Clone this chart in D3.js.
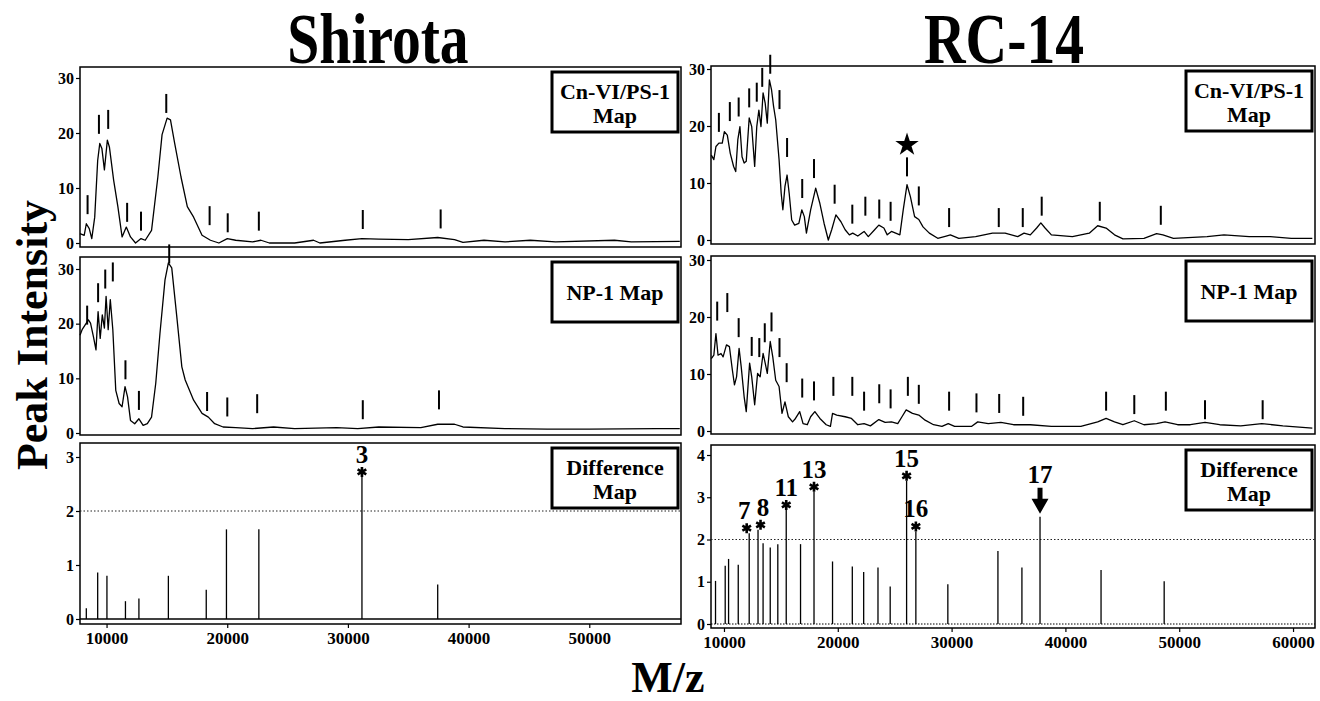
<!DOCTYPE html>
<html lang="en">
<head>
<meta charset="utf-8">
<title>Shirota / RC-14 protein maps</title>
<script src="https://cdn.jsdelivr.net/npm/d3@7"></script>
<style>
body { margin: 0; background: #fff; }
svg text { font-family: "Liberation Serif", "Times New Roman", serif; font-weight: bold; fill: #000; }
.axis text { font-size: 16px; }
.axis line { stroke: #000; stroke-width: 1.2; }
</style>
</head>
<body>
<div id="chart"></div>
<script>

// ---- Shirota, Cn-VI/PS-1 map
var shirotaCnMz = [7800,8149,8323,8567,8776,9020,9265,9439,9613,9822,10067,10241,10590,10938,11287,11636,11984,12403,12856,13205,13728,14251,14600,15018,15297,15646,16169,16692,17215,17912,18610,19307,20005,20702,22097,22794,23492,25584,27153,27676,29768,31163,32558,34999,37440,38834,39532,41275,43019,45111,47203,52085,53480,57500]
var shirotaCnInt = [1.7,1.4,3.5,2.6,0.8,4.7,15,18.1,17.2,13.3,18.7,17.4,11.4,6.6,1.1,2.9,1.1,0,0.8,0.5,2.3,12,19.7,22.7,22.4,18.1,12,6.6,4.7,1.4,0.5,0,0.8,0.5,0.2,0.5,0,0,0.5,0,0.5,0.8,0.7,0.6,1.0,0.6,0.1,0.5,0.2,0.5,0.2,0.5,0.2,0.3]
var shirotaCnPeakMz = [8428,9369,10136,11705,12856,14948,18540,20040,22620,31233,37684]
var shirotaCnPeakTop = [8.7,23.3,24.2,7.3,5.7,27.1,6.7,5.4,5.7,6.0,6.1]

// ---- Shirota, NP-1 map
var shirotaNpMz = [7800,7974,8149,8497,8672,8916,9125,9299,9474,9648,9822,9962,10136,10311,10520,10764,11043,11287,11531,11740,11984,12333,12682,13031,13379,13728,14077,14425,14844,15123,15402,15820,16239,16518,17215,17912,18435,18958,19656,20702,22097,23840,25584,29071,30814,32558,36045,37440,38834,39532,43019,46506,49993,55572,57500]
var shirotaNpInt = [17.9,18.9,19.5,20.7,20.1,17.6,15.2,22.2,17.3,21.6,19.2,25,18.9,24.4,18.9,7.8,5.4,4.8,8.5,6.6,2.3,1.7,2.6,1.4,1.7,2.9,9.1,18.2,28,31.1,30.2,21.3,12.1,9.7,6,3.6,2.9,1.7,1.1,1,0.8,1.1,0.8,1,0.8,1.1,1,1.6,1.6,1.1,0.8,0.7,0.7,0.8,0.8]
var shirotaNpPeakMz = [8393,9300,9892,10520,11566,12682,15192,18331,20005,22481,31233,37545]
var shirotaNpPeakTop = [23.3,27.4,29.9,31.2,13.3,7.7,34.5,7.5,6.5,7.1,6.0,7.8]

// ---- Shirota, difference map
var shirotaDiffMz = [8323,9265,10032,11566,12682,15123,18261,19935,22620,31163,37440]
var shirotaDiffVal = [0.2,0.86,0.8,0.33,0.38,0.8,0.54,1.66,1.66,2.63,0.64]
var shirotaStarMz = [31163]
var shirotaStarLabel = ["3"]

// ---- RC-14, Cn-VI/PS-1 map
var rcCnMz = [8888,9109,9294,9553,9849,10034,10293,10552,10848,11032,11217,11402,11587,11772,11957,12216,12438,12697,12881,13066,13251,13436,13621,13806,13991,14176,14361,14546,14841,15026,15174,15359,15544,15729,15951,16210,16579,16838,17060,17245,17615,18059,18428,18798,19168,19464,19834,20277,20647,21017,21313,21757,22311,22681,23236,23606,24049,24345,24715,25085,25455,25750,26083,26379,26749,27119,27489,28043,28783,29522,29892,30632,32111,33590,34700,35809,36364,36918,37473,37843,38213,38767,40616,42096,42835,43575,44314,45054,46903,48012,48567,49492,52450,53929,56148,57997,59846,61695]
var rcCnInt = [14.9,14.1,16.4,17,17,19,18.4,15.2,12.9,12,17.6,19.9,14.6,13.5,13.8,21.4,19.9,12.9,19.9,22.8,19.9,25.8,24,20.5,28.1,26.4,23.4,21.1,14.1,8.2,5.3,9.4,11.4,8.2,3.5,2.6,2.9,5.3,4.1,1.2,5.3,9.1,6.4,2.9,0,1.8,4.4,3.2,1.8,0.9,1.2,0.7,1.5,0.6,1.8,2.6,2.1,0.9,1.5,1.2,0.9,5.3,9.7,7.6,4.1,3.6,2.3,1.2,0.3,0.7,0.9,0.3,0.6,1.2,1.2,0.6,1.2,0.9,2.1,3,2.1,0.9,0.6,1.2,2.5,2.1,0.9,0.2,0.3,1.1,0.9,0.3,0.6,0.9,0.6,0.6,0.3,0.3]
var rcCnPeakMz = [9553,10515,11291,12216,12881,13362,14065,14878,15544,16875,17911,19723,21276,22422,23643,24641,26083,27119,29781,34145,36253,37917,43020,48382]
var rcCnPeakTop = [22.3,24.2,25,26.6,27.6,30.2,32.5,26.3,17.9,10.7,14.2,9.7,6.2,7.6,7.1,6.7,14.5,9.4,5.6,5.6,5.6,7.6,6.7,6.0]
var rcCnStarMz = 26083
var rcCnStarVal = 16.7

// ---- RC-14, NP-1 map
var rcNpMz = [8888,9109,9294,9479,9738,9923,10219,10478,10737,10922,11106,11328,11513,11772,11957,12253,12438,12697,12955,13177,13436,13621,13806,14065,14287,14546,14841,15100,15359,15655,16025,16284,16654,16949,17319,17615,17985,18428,18983,19353,19538,19908,20647,21202,21757,22311,22866,23606,24160,24715,25270,25640,26009,26564,27119,27673,28413,29153,29707,30262,31741,32296,33220,34330,35439,36918,38767,41356,42835,43575,44314,45054,46052,46903,48012,48752,49861,50971,52265,53559,55408,57257,59107,61695]
var rcNpInt = [12.7,13.3,17.1,13.3,13.6,13,15.1,14.8,10.7,8.1,9.5,14.5,11.3,6,3.4,11.9,9.5,4.6,10.1,9.5,13.6,11.9,10.1,15.7,13,8.9,7.8,3.1,5.1,2.5,1.6,2.2,3.4,1.3,1.1,2.5,3.4,2.2,1.1,0.8,3.1,2.8,2.5,2.2,1.1,1.3,0.9,2,1.5,1.6,1.3,2.5,3.7,3.1,2.8,1.9,1.1,0.8,1.3,0.8,0.8,1.6,1.3,1.5,1.1,1.1,0.8,0.8,1.6,2.2,1.6,1.1,1.8,1.1,1.3,1.6,1.1,1.1,1.5,1.1,0.9,1.3,0.9,0.5]
var rcNpPeakMz = [9405,10293,11291,12438,13103,13584,14176,14878,15507,16875,17911,19612,21276,22311,23643,24641,26157,27119,29781,32185,34182,36290,43575,46052,48826,52265,57331]
var rcNpPeakTop = [22.7,24.2,19.8,16.5,16.3,18.9,20.8,16.3,11.9,9.2,8.7,9.5,9.5,6.9,8.2,7.3,9.5,8.1,6.9,6.6,6.5,6,6.9,6.3,6.9,5.4,5.4]

// ---- RC-14, difference map
var rcDiffMz = [9257,10108,10404,11254,12216,12992,13436,14065,14730,15470,16727,17911,19538,21276,22274,23532,24604,26046,26860,29670,34071,36179,37769,43131,48678]
var rcDiffVal = [1.02,1.38,1.54,1.4,2.15,2.23,1.91,1.81,1.89,2.7,1.89,3.13,1.48,1.36,1.23,1.34,0.89,3.39,2.19,0.94,1.73,1.34,2.54,1.28,1.01]
var rcStarMz = [12216,12992,15470,17911,26046,26860]
var rcStarLabel = ["7","8","11","13","15","16"]
var rcArrowMz = 37769
var rcArrowLabel = "17"

// ---- axes
var spectrumTicks = [0,10,20,30]
var shirotaDiffTicks = [0,1,2,3]
var rcDiffTicks = [0,1,2,3,4]
var shirotaMzTicks = [10000,20000,30000,40000,50000]
var rcMzTicks = [10000,20000,30000,40000,50000,60000]
var threshold = 2

var w = 1320, h = 701
var svg = d3.select("#chart").append("svg").attr("width", w).attr("height", h)

var cols = [
	{x0: 80, x1: 681, domain: [7800, 57600], ticks: shirotaMzTicks, title: "Shirota", titleX: 378},
	{x0: 711, x1: 1315, domain: [8860, 61930], ticks: rcMzTicks, title: "RC-14", titleX: 1004}
]
cols.forEach(function(c){
	c.x = d3.scaleLinear().domain(c.domain).range([c.x0, c.x1])
})

var panels = [
	{col:0, y0:67, y1:247, yZero:243, yTop:78, topVal:30, ticks:spectrumTicks, kind:"spectrum",
		mz:shirotaCnMz, val:shirotaCnInt, peakMz:shirotaCnPeakMz, peakTop:shirotaCnPeakTop, box:["Cn-VI/PS-1","Map"]},
	{col:0, y0:257, y1:435, yZero:433, yTop:269, topVal:30, ticks:spectrumTicks, kind:"spectrum",
		mz:shirotaNpMz, val:shirotaNpInt, peakMz:shirotaNpPeakMz, peakTop:shirotaNpPeakTop, box:["NP-1 Map"]},
	{col:0, y0:443, y1:624, yZero:619, yTop:457, topVal:3, ticks:shirotaDiffTicks, kind:"diff",
		mz:shirotaDiffMz, val:shirotaDiffVal, starMz:shirotaStarMz, starLabel:shirotaStarLabel, box:["Difference","Map"], solidBase:true},
	{col:1, y0:66, y1:244, yZero:240, yTop:69, topVal:30, ticks:spectrumTicks, kind:"spectrum",
		mz:rcCnMz, val:rcCnInt, peakMz:rcCnPeakMz, peakTop:rcCnPeakTop, box:["Cn-VI/PS-1","Map"]},
	{col:1, y0:256, y1:434, yZero:431, yTop:260, topVal:30, ticks:spectrumTicks, kind:"spectrum",
		mz:rcNpMz, val:rcNpInt, peakMz:rcNpPeakMz, peakTop:rcNpPeakTop, box:["NP-1 Map"]},
	{col:1, y0:445, y1:628, yZero:624, yTop:455, topVal:4, ticks:rcDiffTicks, kind:"diff",
		mz:rcDiffMz, val:rcDiffVal, starMz:rcStarMz, starLabel:rcStarLabel, box:["Difference","Map"], solidBase:false}
]

var markLen = 19
var labelNudge = {"7": -5, "8": 5}
var asterisk = d3.symbol().type(d3.symbolAsterisk).size(70)

panels.forEach(function(p){
	var c = cols[p.col]
	var x = c.x
	var y = d3.scaleLinear().domain([0, p.topVal]).range([p.yZero, p.yTop])
	var g = svg.append("g")

	// frame
	g.append("rect")
		.attr("x", c.x0).attr("y", p.y0)
		.attr("width", c.x1 - c.x0).attr("height", p.y1 - p.y0)
		.attr("fill", "none").attr("stroke", "#000").attr("stroke-width", 1.5)

	// y axis
	g.append("g")
		.attr("class", "axis")
		.attr("transform", "translate(" + c.x0 + ",0)")
		.call(d3.axisLeft(y).tickValues(p.ticks).tickSize(4).tickPadding(2).tickFormat(d3.format("d")))
		.call(function(a){ a.select(".domain").remove() })

	if (p.kind == "spectrum") {
		var line = d3.line()
			.x(function(d,i){ return x(p.mz[i]) })
			.y(function(d){ return y(d) })
		g.append("path")
			.datum(p.val)
			.attr("d", line)
			.attr("fill", "none").attr("stroke", "#000").attr("stroke-width", 1.3)
			.attr("stroke-linejoin", "round")

		g.selectAll(".peak")
			.data(p.peakMz)
			.enter()
			.append("line")
			.attr("x1", function(d){ return x(d) })
			.attr("x2", function(d){ return x(d) })
			.attr("y1", function(d,i){ return y(p.peakTop[i]) })
			.attr("y2", function(d,i){ return y(p.peakTop[i]) + markLen })
			.attr("stroke", "#000").attr("stroke-width", 2)
	} else {
		// threshold and baseline
		g.append("line")
			.attr("x1", c.x0).attr("x2", c.x1)
			.attr("y1", y(threshold)).attr("y2", y(threshold))
			.attr("stroke", "#222").attr("stroke-width", 1).attr("stroke-dasharray", "1.5,2")
		g.append("line")
			.attr("x1", c.x0).attr("x2", c.x1)
			.attr("y1", y(0)).attr("y2", y(0))
			.attr("stroke", "#000").attr("stroke-width", p.solidBase ? 1.5 : 1.2)
			.attr("stroke-dasharray", p.solidBase ? null : "1.5,1.5")

		g.selectAll(".stem")
			.data(p.mz)
			.enter()
			.append("line")
			.attr("x1", function(d){ return x(d) })
			.attr("x2", function(d){ return x(d) })
			.attr("y1", y(0))
			.attr("y2", function(d,i){ return y(p.val[i]) })
			.attr("stroke", "#000").attr("stroke-width", 1.3)

		// starred peaks
		p.starMz.forEach(function(m, k){
			var v = p.val[p.mz.indexOf(m)]
			var lab = p.starLabel[k]
			var nudge = labelNudge[lab] || 0
			var cy = y(v) - 5
			g.append("path")
				.attr("d", asterisk)
				.attr("transform", "translate(" + (x(m) + nudge / 2) + "," + cy + ")")
				.attr("stroke", "#000").attr("stroke-width", 2.6).attr("fill", "none")
			g.append("text")
				.attr("x", x(m) + nudge).attr("y", cy - 9)
				.attr("text-anchor", "middle").style("font-size", "25px")
				.text(lab)
		})

		if (p.col == 1) {
			var ax = x(rcArrowMz)
			var tip = y(p.val[p.mz.indexOf(rcArrowMz)]) - 3
			g.append("path")
				.attr("d", "M" + ax + "," + tip + "l-8.5,-15l6,0l0,-11l5,0l0,11l6,0z")
				.attr("fill", "#000")
			g.append("text")
				.attr("x", ax).attr("y", tip - 31)
				.attr("text-anchor", "middle").style("font-size", "25px")
				.text(rcArrowLabel)
		}

		// x axis
		g.append("g")
			.attr("class", "axis")
			.attr("transform", "translate(0," + p.y1 + ")")
			.call(d3.axisBottom(x).tickValues(c.ticks).tickSize(4).tickPadding(4).tickFormat(d3.format("d")))
			.call(function(a){ a.select(".domain").remove() })
			.selectAll("text").style("font-size", "17px")
	}

	// legend box
	var bw = 126, bh = 60
	var bx = c.x1 - 3 - bw, by = p.y0 + 5
	g.append("rect")
		.attr("x", bx).attr("y", by).attr("width", bw).attr("height", bh)
		.attr("fill", "#fff").attr("stroke", "#000").attr("stroke-width", 3)
	var baselines = p.box.length == 2 ? [27, 51] : [38]
	p.box.forEach(function(t, i){
		g.append("text")
			.attr("x", bx + bw / 2).attr("y", by + baselines[i])
			.attr("text-anchor", "middle").style("font-size", "22px")
			.text(t)
	})
})

// star over the RC-14 Cn-VI/PS-1 peak
var rcTop = panels[3]
var yRcTop = d3.scaleLinear().domain([0, 30]).range([rcTop.yZero, rcTop.yTop])
svg.append("path")
	.attr("d", d3.symbol().type(d3.symbolStar).size(170))
	.attr("transform", "translate(" + cols[1].x(rcCnStarMz) + "," + yRcTop(rcCnStarVal) + ")")
	.attr("fill", "#000")

// titles
cols.forEach(function(c){
	svg.append("text")
		.attr("transform", "translate(" + c.titleX + ",63) scale(0.8,1)")
		.attr("text-anchor", "middle").style("font-size", "72px")
		.text(c.title)
})

svg.append("text")
	.attr("transform", "translate(47,335) rotate(-90)")
	.attr("text-anchor", "middle").style("font-size", "44px")
	.text("Peak Intensity")

svg.append("text")
	.attr("x", 668).attr("y", 692)
	.attr("text-anchor", "middle").style("font-size", "44px")
	.text("M/z")

</script>
</body>
</html>
